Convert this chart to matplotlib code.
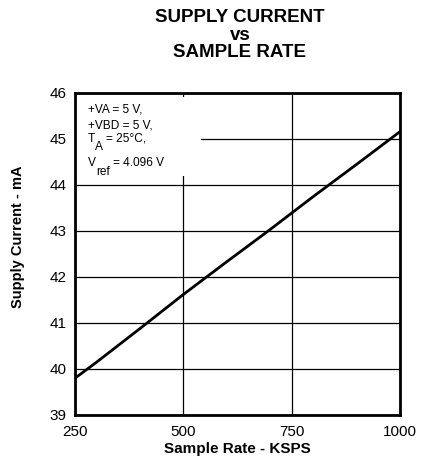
import matplotlib
matplotlib.use('Agg')
import matplotlib.pyplot as plt
from matplotlib.patches import Rectangle

# data
rate = [250, 300, 400, 500, 600, 700, 750, 800, 900, 1000]
current = [39.8, 40.15, 40.88, 41.62, 42.33, 43.03, 43.39, 43.75, 44.45, 45.16]
xticks = [250, 500, 750, 1000]
yticks = [39, 40, 41, 42, 43, 44, 45, 46]
title_lines = ['SUPPLY CURRENT', 'vs', 'SAMPLE RATE']

plt.rcParams['font.family'] = ['Liberation Sans', 'DejaVu Sans']

W, H = 428, 462
fig = plt.figure(figsize=(W / 100, H / 100), dpi=100)
ax = fig.add_axes([75 / W, 1 - 415 / H, 325 / W, 322 / H])

ax.plot(rate, current, color='black', lw=2, zorder=3)
ax.set_xlim(250, 1000)
ax.set_ylim(39, 46)
ax.set_xticks(xticks)
ax.set_yticks(yticks)
ax.grid(True, color='black', lw=0.9)
for s in ax.spines.values():
    s.set_linewidth(2)
ax.tick_params(length=0, labelsize=11, pad=6)
ax.tick_params(axis='x', pad=7)

# white box behind the conditions text
ax.add_patch(Rectangle((250, 44.2), 290, 1.72, facecolor='white',
                       edgecolor='none', zorder=2))

ax.set_xlabel('Sample Rate - KSPS', fontsize=11, fontweight='bold', labelpad=2)
fig.text(18 / W, 1 - 237 / H, 'Supply Current - mA', fontsize=10.5, fontweight='bold',
         rotation=90, ha='center', va='center')

for ypix, s in zip([22, 40, 57], title_lines):
    fig.text(240 / W, 1 - ypix / H, s, ha='center', va='baseline',
             fontsize=13.5, fontweight='bold')

# conditions text, subscripts at full size and lowered
fs = 8.6
renderer = fig.canvas.get_renderer()


def put(xpix, ypix, s):
    return fig.text(xpix / W, 1 - ypix / H, s, fontsize=fs, ha='left',
                    va='baseline', zorder=5)


def right(t):
    return t.get_window_extent(renderer).x1


put(88, 112, '+VA = 5 V,')
put(88, 129, '+VBD = 5 V,')
t = put(88, 142, 'T')
t = put(right(t), 150, 'A')
put(right(t) + 3, 142, '= 25°C,')
t = put(88, 166.5, 'V')
t = put(right(t), 175, 'ref')
put(right(t) + 3, 166.5, '= 4.096 V')

fig.savefig('out.png', dpi=100)
